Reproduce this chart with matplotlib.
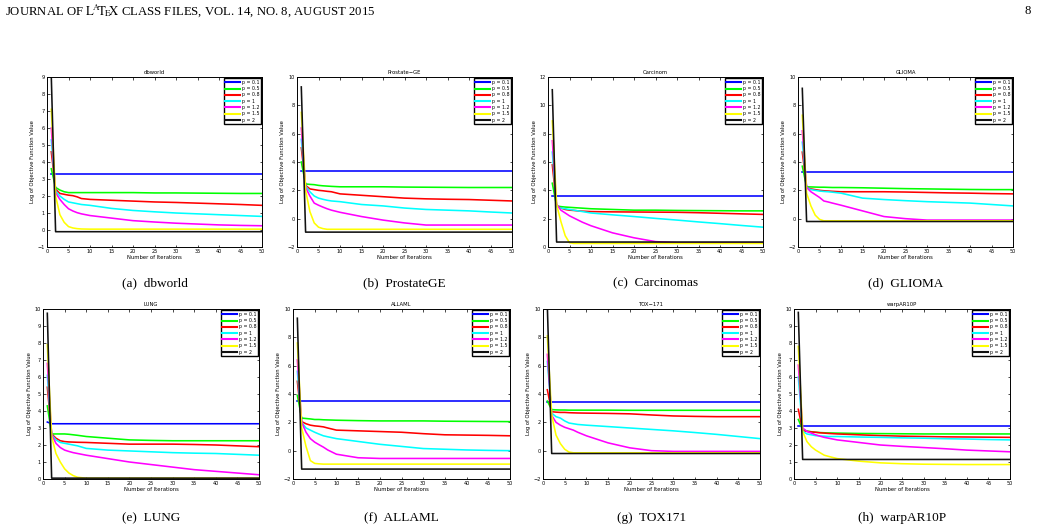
import matplotlib
matplotlib.use("Agg")
import matplotlib.pyplot as plt

W, H = 1041, 527

P_LABELS = ["p = 0.1", "p = 0.5", "p = 0.8", "p = 1", "p = 1.2", "p = 1.5", "p = 2"]
COLORS = ["#0000ff", "#00ff00", "#ff0000", "#00ffff", "#ff00ff", "#ffff00", "#111111"]
ITERS = [1, 2, 3, 4, 5, 6, 7, 8, 10, 15, 20, 25, 30, 35, 40, 45, 50]

dbworld = [
    [3.3] * 17,
    [3.6, 2.5, 2.35, 2.25, 2.2, 2.2, 2.2, 2.2, 2.2, 2.2, 2.2, 2.18, 2.18, 2.17, 2.16, 2.15, 2.15],
    [4.6, 2.4, 2.15, 2.1, 2.05, 2.02, 1.95, 1.85, 1.8, 1.75, 1.7, 1.65, 1.62, 1.58, 1.54, 1.5, 1.45],
    [5.3, 2.3, 2.0, 1.8, 1.65, 1.6, 1.55, 1.5, 1.45, 1.27, 1.15, 1.07, 1.0, 0.95, 0.9, 0.85, 0.8],
    [6.0, 2.2, 1.8, 1.5, 1.25, 1.12, 1.02, 0.95, 0.85, 0.7, 0.55, 0.47, 0.4, 0.35, 0.3, 0.27, 0.25],
    [7.1, 2.0, 0.9, 0.45, 0.2, 0.12, 0.08, 0.06, 0.05, 0.05, 0.05, 0.05, 0.05, 0.05, 0.05, 0.05, 0.05],
    [9.0] + [-0.1] * 16,
]
prostate = [
    [3.4] * 17,
    [4.0, 2.45, 2.42, 2.4, 2.35, 2.32, 2.3, 2.28, 2.25, 2.25, 2.25, 2.23, 2.22, 2.21, 2.2, 2.2, 2.2],
    [5.0, 2.35, 2.1, 2.05, 2.0, 1.97, 1.93, 1.9, 1.75, 1.65, 1.55, 1.45, 1.4, 1.37, 1.35, 1.3, 1.25],
    [5.6, 2.3, 1.9, 1.6, 1.45, 1.37, 1.3, 1.25, 1.2, 1.0, 0.9, 0.75, 0.65, 0.6, 0.55, 0.47, 0.4],
    [6.4, 2.2, 1.6, 1.1, 0.95, 0.82, 0.7, 0.6, 0.45, 0.15, -0.1, -0.3, -0.45, -0.45, -0.45, -0.45, -0.45],
    [7.5, 2.0, 0.5, -0.3, -0.6, -0.7, -0.75, -0.75, -0.75, -0.75, -0.75, -0.75, -0.75, -0.75, -0.75, -0.75, -0.75],
    [9.3] + [-0.95] * 16,
]
carcinom = [
    [3.6] * 17,
    [4.5, 2.9, 2.85, 2.82, 2.8, 2.78, 2.76, 2.74, 2.7, 2.65, 2.6, 2.6, 2.58, 2.57, 2.56, 2.55, 2.55],
    [5.8, 2.9, 2.75, 2.65, 2.6, 2.58, 2.55, 2.53, 2.5, 2.48, 2.47, 2.46, 2.45, 2.42, 2.38, 2.34, 2.3],
    [6.7, 2.85, 2.75, 2.7, 2.65, 2.6, 2.55, 2.5, 2.4, 2.27, 2.15, 2.02, 1.9, 1.77, 1.65, 1.52, 1.4],
    [7.5, 3.0, 2.6, 2.4, 2.2, 2.05, 1.9, 1.75, 1.5, 1.0, 0.65, 0.38, 0.3, 0.3, 0.3, 0.3, 0.3],
    [8.9, 3.0, 1.8, 0.8, 0.3, 0.25, 0.25, 0.25, 0.25, 0.25, 0.25, 0.25, 0.25, 0.25, 0.25, 0.25, 0.25],
    [11.1] + [0.35] * 16,
]
glioma = [
    [3.26] * 17,
    [3.7, 2.25, 2.24, 2.23, 2.22, 2.22, 2.21, 2.2, 2.2, 2.18, 2.15, 2.12, 2.1, 2.08, 2.06, 2.05, 2.05],
    [4.7, 2.2, 2.1, 2.05, 2.0, 1.97, 1.95, 1.93, 1.9, 1.9, 1.9, 1.88, 1.85, 1.82, 1.8, 1.77, 1.75],
    [5.4, 2.2, 2.05, 2.0, 1.95, 1.92, 1.9, 1.87, 1.8, 1.45, 1.35, 1.27, 1.2, 1.15, 1.1, 1.0, 0.9],
    [6.2, 2.2, 1.9, 1.7, 1.5, 1.25, 1.18, 1.1, 0.95, 0.55, 0.15, 0.0, -0.1, -0.1, -0.1, -0.1, -0.1],
    [7.3, 1.8, 0.9, 0.25, -0.05, -0.15, -0.15, -0.15, -0.15, -0.15, -0.15, -0.15, -0.15, -0.15, -0.15, -0.15, -0.15],
    [9.2] + [-0.2] * 16,
]
lung = [
    [3.35] + [3.25] * 16,
    [4.3, 2.65, 2.65, 2.65, 2.65, 2.63, 2.6, 2.57, 2.5, 2.4, 2.3, 2.27, 2.25, 2.25, 2.25, 2.25, 2.25],
    [5.4, 2.65, 2.4, 2.25, 2.2, 2.18, 2.17, 2.16, 2.15, 2.1, 2.05, 2.05, 2.05, 2.03, 2.0, 1.95, 1.9],
    [6.1, 2.6, 2.3, 2.15, 2.1, 2.05, 2.0, 1.95, 1.8, 1.7, 1.65, 1.6, 1.55, 1.52, 1.5, 1.45, 1.4],
    [6.8, 2.6, 2.1, 1.85, 1.7, 1.62, 1.55, 1.5, 1.4, 1.2, 1.0, 0.85, 0.7, 0.55, 0.45, 0.35, 0.25],
    [7.9, 2.5, 1.5, 1.0, 0.6, 0.35, 0.2, 0.1, 0.05, 0.05, 0.05, 0.05, 0.05, 0.05, 0.05, 0.05, 0.05],
    [9.75] + [0.05] * 16,
]
allaml = [
    [3.5] * 17,
    [3.9, 2.3, 2.27, 2.24, 2.2, 2.2, 2.18, 2.17, 2.15, 2.12, 2.1, 2.1, 2.1, 2.08, 2.07, 2.06, 2.05],
    [4.9, 2.05, 1.9, 1.8, 1.75, 1.72, 1.68, 1.6, 1.45, 1.4, 1.35, 1.3, 1.2, 1.12, 1.1, 1.08, 1.05],
    [5.6, 2.0, 1.6, 1.45, 1.3, 1.17, 1.05, 0.98, 0.85, 0.65, 0.45, 0.3, 0.15, 0.1, 0.05, 0.02, 0.0],
    [6.4, 2.0, 1.3, 0.85, 0.6, 0.42, 0.25, 0.05, -0.25, -0.5, -0.55, -0.55, -0.55, -0.55, -0.55, -0.55, -0.55],
    [7.6, 1.6, 0.3, -0.7, -0.9, -0.93, -0.95, -0.95, -0.95, -0.95, -0.95, -0.95, -0.95, -0.95, -0.95, -0.95, -0.95],
    [9.35] + [-1.3] * 16,
]
tox171 = [
    [3.43] * 17,
    [3.5, 2.9, 2.88, 2.87, 2.87, 2.86, 2.86, 2.86, 2.86, 2.86, 2.85, 2.85, 2.85, 2.85, 2.85, 2.85, 2.85],
    [4.3, 2.75, 2.72, 2.7, 2.7, 2.68, 2.67, 2.66, 2.65, 2.63, 2.6, 2.52, 2.45, 2.42, 2.4, 2.4, 2.4],
    [6.3, 2.65, 2.4, 2.3, 2.1, 1.95, 1.9, 1.85, 1.8, 1.7, 1.6, 1.5, 1.4, 1.28, 1.15, 1.0, 0.85],
    [6.8, 2.5, 2.0, 1.8, 1.65, 1.55, 1.45, 1.3, 1.05, 0.55, 0.2, 0.0, -0.05, -0.05, -0.05, -0.05, -0.05],
    [8.1, 2.5, 1.1, 0.5, 0.1, -0.1, -0.15, -0.15, -0.15, -0.15, -0.15, -0.15, -0.15, -0.15, -0.15, -0.15, -0.15],
    [10.2] + [-0.2] * 16,
]
warpar10p = [
    [3.1] * 17,
    [3.5, 2.9, 2.82, 2.78, 2.75, 2.73, 2.72, 2.71, 2.7, 2.68, 2.67, 2.66, 2.65, 2.65, 2.65, 2.65, 2.65],
    [4.1, 2.85, 2.8, 2.77, 2.75, 2.72, 2.7, 2.68, 2.65, 2.6, 2.55, 2.52, 2.5, 2.48, 2.47, 2.46, 2.45],
    [6.0, 2.8, 2.65, 2.6, 2.55, 2.53, 2.52, 2.5, 2.5, 2.47, 2.45, 2.42, 2.4, 2.37, 2.35, 2.32, 2.3],
    [6.7, 3.0, 2.8, 2.7, 2.6, 2.52, 2.45, 2.4, 2.3, 2.15, 2.0, 1.92, 1.85, 1.78, 1.7, 1.65, 1.6],
    [7.8, 2.8, 2.2, 1.9, 1.7, 1.55, 1.4, 1.33, 1.2, 1.05, 0.95, 0.9, 0.87, 0.86, 0.85, 0.85, 0.85],
    [9.8] + [1.15] * 16,
]

TITLES = ["dbworld", "Prostate\u2212GE", "Carcinom", "GLIOMA", "LUNG", "ALLAML", "TOX\u2212171", "warpAR10P"]
CAPTIONS = ["(a)  dbworld", "(b)  ProstateGE", "(c)  Carcinomas", "(d)  GLIOMA",
            "(e)  LUNG", "(f)  ALLAML", "(g)  TOX171", "(h)  warpAR10P"]
DATA = [dbworld, prostate, carcinom, glioma, lung, allaml, tox171, warpar10p]
YLIMS = [(-1, 9), (-2, 10), (0, 12), (-2, 10), (0, 10), (-2, 10), (-2, 10), (0, 10)]
YSTEPS = [1, 2, 2, 2, 1, 2, 2, 1]

# axes boxes in pixels (left, right, top, bottom)
BOXES = [(47, 262, 77, 247), (297, 512, 77, 247), (548, 763, 77, 247), (798, 1013, 77, 247),
         (43, 259, 309, 479), (293, 510, 309, 479), (543, 760, 309, 479), (794, 1010, 309, 479)]
CAP_Y = [283, 283, 283, 283, 518, 518, 518, 518]

plt.rcParams['mathtext.fontset'] = 'stix'
fig = plt.figure(figsize=(W / 100, H / 100), dpi=100)
fig.patch.set_facecolor("white")

SERIF = "Liberation Serif"
fig.text(5 / W, 1 - 11 / H,
         r"JOURNAL OF $\mathrm{L\!^{A}\!T\!_{E}\!X}$ CLASS FILES, VOL. 14, NO. 8, AUGUST 2015",
         family=SERIF, fontsize=9.2, va="center", ha="left")
fig.text(1031 / W, 1 - 11 / H, "8", family=SERIF, fontsize=9.2, va="center", ha="right")

for i in range(8):
    l, r, t, b = BOXES[i]
    ax = fig.add_axes([l / W, 1 - b / H, (r - l) / W, (b - t) / H])
    for k, series in enumerate(DATA[i]):
        ax.plot(ITERS, series, color=COLORS[k], lw=1.15, label=P_LABELS[k])
    ax.set_xlim(0, 50)
    lo, hi = YLIMS[i]
    ax.set_ylim(lo, hi)
    ax.set_xticks(range(0, 51, 5))
    ax.set_yticks(range(lo, hi + 1, YSTEPS[i]))
    ax.set_yticklabels([str(v).replace("-", "\u2212") for v in range(lo, hi + 1, YSTEPS[i])])
    ax.tick_params(direction="in", top=True, right=True, length=1.8, width=0.5,
                   labelsize=3.6, pad=1.5)
    for s in ax.spines.values():
        s.set_linewidth(0.7)
    ax.set_title(TITLES[i], fontsize=3.8, pad=2.5)
    ax.set_xlabel("Number of Iterations", fontsize=3.8, labelpad=1)
    ax.set_ylabel("Log of Objective Function Value", fontsize=3.8, labelpad=2)
    leg = ax.legend(loc="upper right", fontsize=3.4, handlelength=3.2, labelspacing=0.28,
                    borderaxespad=0.3, fancybox=False, framealpha=1, edgecolor="black",
                    borderpad=0.3, handletextpad=0.3)
    leg.get_frame().set_linewidth(1.0)
    for ln in leg.get_lines():
        ln.set_linewidth(1.5)
    fig.text((l + r) / 2 / W, 1 - CAP_Y[i] / H, CAPTIONS[i], family=SERIF, fontsize=9.5,
             ha="center", va="center")

fig.savefig("out.png", dpi=100, facecolor="white")
